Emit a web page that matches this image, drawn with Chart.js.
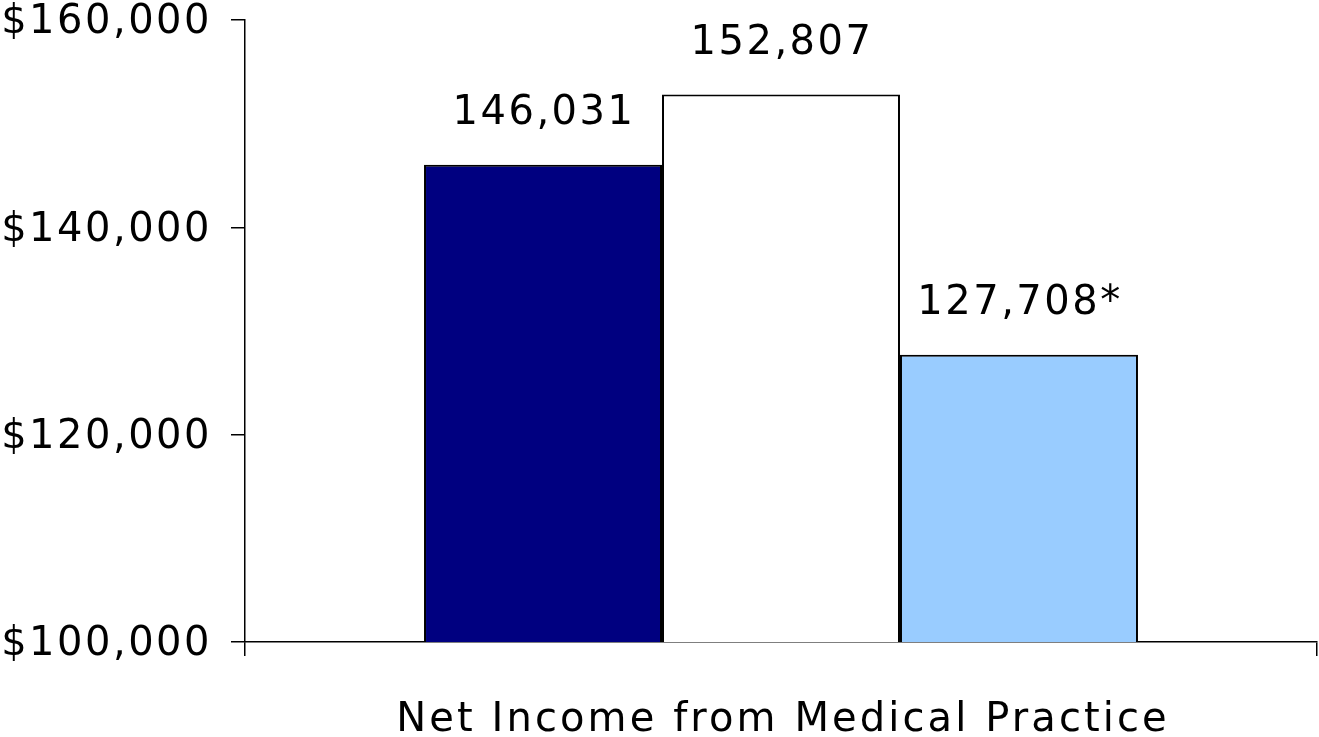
<!DOCTYPE html>
<html>
<head>
<meta charset="utf-8">
<script src="https://cdn.jsdelivr.net/npm/chart.js@4"></script>
<style>
  body { margin: 0; background: #fff; }
  #wrap { width: 1319px; height: 737px; }
</style>
</head>
<body>
<div id="wrap"><canvas id="incomeChart"></canvas></div>
<script>
// Chart data
const categories = ['Net Income from Medical Practice'];
const seriesNames = ['Group A', 'Group B', 'Group C'];
const seriesValues = [146031, 152807, 127708];
const valueLabels = ['146,031', '152,807', '127,708*'];
const yTicks = [100000, 120000, 140000, 160000];

const fillColors = ['#000080', '#ffffff', '#99ccff'];
const FONT = 'DejaVu Sans';
const SPACING = '2.5px';

// wider letter spacing like the original
const spacing = {
  id: 'spacing',
  beforeDraw(chart) { chart.ctx.letterSpacing = SPACING; }
};

// numbers above the bars + the category name under the axis
const barLabels = {
  id: 'barLabels',
  afterDraw(chart) {
    const ctx = chart.ctx;
    ctx.save();
    ctx.font = '40px "' + FONT + '"';
    ctx.fillStyle = '#000';
    ctx.textAlign = 'center';
    ctx.textBaseline = 'middle';
    ctx.letterSpacing = SPACING;
    chart.data.datasets.forEach((ds, i) => {
      const bar = chart.getDatasetMeta(i).data[0];
      ctx.fillText(valueLabels[i], bar.x + 1, bar.y - 51);
    });
    const x = chart.scales.x;
    ctx.letterSpacing = '3.1px';
    categories.forEach((c, i) => {
      ctx.fillText(c, x.getPixelForValue(i) + 2, x.bottom - 16);
    });
    ctx.restore();
  }
};

const ctx = document.getElementById('incomeChart').getContext('2d');
const incomeChart = new Chart(ctx, {
  type: 'bar',
  data: {
    labels: categories,
    datasets: seriesNames.map((name, i) => ({
      label: name,
      data: [seriesValues[i]],
      backgroundColor: fillColors[i],
      borderColor: '#000',
      borderWidth: 2,
      borderSkipped: false,
      categoryPercentage: 0.666,
      barPercentage: 1
    }))
  },
  options: {
    responsive: true,
    maintainAspectRatio: false,
    animation: false,
    layout: { padding: { top: 0, right: 2, bottom: 0, left: 0 } },
    plugins: {
      legend: { display: false },
      tooltip: { enabled: false }
    },
    scales: {
      x: {
        afterFit(axis) { axis.height = 95; },
        grid: { drawOnChartArea: false, drawTicks: true, tickLength: 14, color: '#000', lineWidth: 1.5 },
        border: { display: true, color: '#000', width: 1.5 },
        ticks: { display: false }
      },
      y: {
        min: 100000,
        max: 160000,
        afterBuildTicks(axis) {
          axis.ticks = yTicks.map(v => ({ value: v }));
        },
        afterFit(axis) {
          axis.width = 245;
          axis.paddingTop = 20;
          axis.paddingBottom = 0;
        },
        grid: { drawOnChartArea: false, drawTicks: true, tickLength: 14, color: '#000', lineWidth: 1.5 },
        border: { display: true, color: '#000', width: 1.5 },
        ticks: {
          color: '#000',
          padding: 19,
          labelOffset: 3,
          font: { family: FONT, size: 40 },
          callback: v => '$' + v.toLocaleString('en-US')
        }
      }
    }
  },
  plugins: [spacing, barLabels]
});
</script>
</body>
</html>
